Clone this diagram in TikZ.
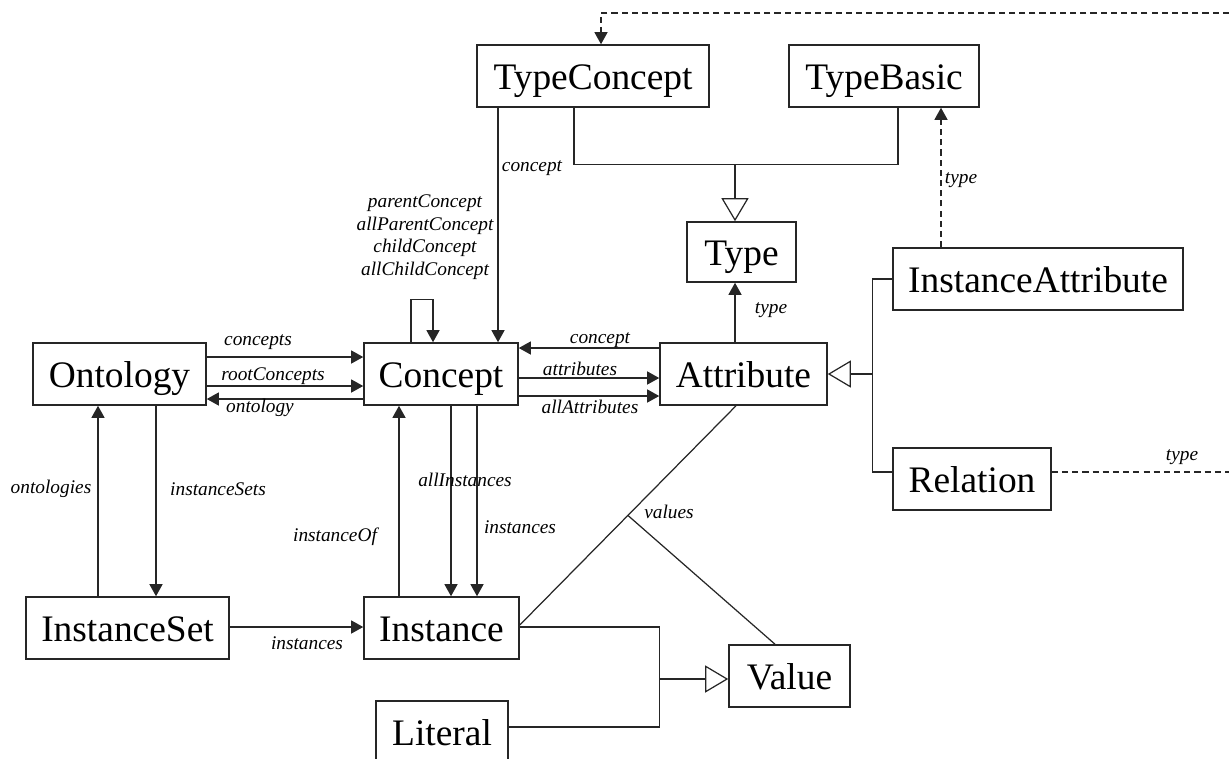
\documentclass[tikz,border=0pt]{standalone}
\usepackage{fontspec}
\setmainfont{Liberation Serif}
\usetikzlibrary{arrows.meta,calc}

\tikzset{
  cls/.style={draw=black!85, line width=0.9pt, fill=white, inner sep=0pt,
    minimum height=1.24cm, text height=0.64cm, text depth=0.12cm,
    font=\fontsize{21.3}{24}\selectfont},
  role/.style={font=\fontsize{11}{12.9}\selectfont\itshape, inner sep=0pt},
  link/.style={draw=black!85, line width=0.7pt},
  assoc/.style={link, -{Triangle[length=0.24cm,width=0.26cm]}},
  gen/.style={link, -{Triangle[open,length=0.46cm,width=0.54cm]}},
  dep/.style={assoc, dash pattern=on 3.5pt off 2.3pt},
}

\begin{document}
\begin{tikzpicture}[x=0.02cm, y=-0.02cm]
            \useasboundingbox (0,0) rectangle (1229,758);

            % 类
            \node[cls, minimum width=4.64cm] (TypeConcept) at (593,76) {TypeConcept};
            \node[cls, minimum width=3.8cm] (TypeBasic) at (884,76) {TypeBasic};
            \node[cls, minimum width=2.18cm, minimum height=1.2cm] (Type) at (741.5,252) {Type};
            \node[cls, minimum width=3.46cm] (Ontology) at (119.5,374) {Ontology};
            \node[cls, minimum width=3.08cm] (Concept) at (441,374) {Concept};
            \node[cls, minimum width=3.34cm] (Attribute) at (743.5,374) {Attribute};
            \node[cls, minimum width=5.8cm] (InstAttr) at (1038,279) {InstanceAttribute};
            \node[cls, minimum width=3.16cm] (Relation) at (972,479) {Relation};
            \node[cls, minimum width=4.06cm] (InstanceSet) at (127.5,628) {InstanceSet};
            \node[cls, minimum width=3.1cm] (Instance) at (441.5,628) {Instance};
            \node[cls, minimum width=2.42cm] (Value) at (789.5,676) {Value};
            \node[cls, minimum width=2.64cm] (Literal) at (442,732) {Literal};

            % 类型
            \coordinate (topEdge) at (1229,13);
            \draw[dep] (topEdge) -| (TypeConcept.north -| 601,0);
            \draw[link] (TypeConcept.south -| 574,0) -- ++(0,57) coordinate (tj) -| (TypeBasic.south -| 898,0);
            \draw[gen] (tj -| 735,0) -- (Type.north -| 735,0);
            \draw[assoc] (TypeConcept.south -| 498,0) -- (Concept.north -| 498,0);
            \node[role] (lTypeConcept) at (532,168) {concept};
            \draw[dep] (InstAttr.north -| 941,0) -- (TypeBasic.south -| 941,0);
            \node[role] (lInstAttr) at (961,180) {type};

            % 概念自身
            \draw[assoc] (Concept.north -| 411,0) -- ++(0,-43) -| (Concept.north -| 433,0);
            \node[role, align=center] (lSelf) at (425,237)
                {parentConcept\\allParentConcept\\childConcept\\allChildConcept};

            % Ontology -- Concept
            \draw[assoc] (Ontology.east |- 0,357) -- (Concept.west |- 0,357);
            \draw[assoc] (Ontology.east |- 0,386) -- (Concept.west |- 0,386);
            \draw[assoc] (Concept.west |- 0,399) -- (Ontology.east |- 0,399);
            \node[role] (lConcepts) at (258,342) {concepts};
            \node[role] (lRoot) at (273,376) {rootConcepts};
            \node[role] (lOntology) at (260,408) {ontology};

            % Concept -- Attribute
            \draw[assoc] (Attribute.west |- 0,348) -- (Concept.east |- 0,348);
            \draw[assoc] (Concept.east |- 0,378) -- (Attribute.west |- 0,378);
            \draw[assoc] (Concept.east |- 0,396) -- (Attribute.west |- 0,396);
            \node[role] (lConcept) at (600,340) {concept};
            \node[role] (lAttributes) at (580,369) {attributes};
            \node[role] (lAllAttr) at (590,407) {allAttributes};
            \draw[assoc] (Attribute.north -| 735,0) -- (Type.south -| 735,0);
            \node[role] (lType) at (771,310) {type};

            % 属性的子类
            \draw[link] (InstAttr.west) -- ++(-20,0) coordinate (ga) |- (Relation.west |- 0,472);
            \draw[gen] (ga |- Attribute.east) -- (Attribute.east);
            \coordinate (relEdge) at (1229,472);
            \draw[link, dash pattern=on 3.5pt off 2.3pt] (Relation.east |- relEdge) -- (relEdge);
            \node[role] (lRelType) at (1182,457) {type};

            % 实例
            \draw[assoc] (InstanceSet.north -| 98,0) -- (Ontology.south -| 98,0);
            \draw[assoc] (Ontology.south -| 156,0) -- (InstanceSet.north -| 156,0);
            \node[role] (lOntologies) at (51,489) {ontologies};
            \node[role] (lInstSets) at (218,489) {instanceSets};
            \draw[assoc] (InstanceSet.east |- 0,627) -- (Instance.west |- 0,627);
            \node[role] (lInstances) at (307,643) {instances};
            \draw[assoc] (Instance.north -| 399,0) -- (Concept.south -| 399,0);
            \draw[assoc] (Concept.south -| 451,0) -- (Instance.north -| 451,0);
            \draw[assoc] (Concept.south -| 477,0) -- (Instance.north -| 477,0);
            \node[role] (lInstOf) at (335,537) {instanceOf};
            \node[role] (lAllInst) at (465,480) {allInstances};
            \node[role] (lInst) at (520,527) {instances};

            % 值
            \draw[link] (Attribute.south -| 736,0) -- coordinate[pos=0.5] (vj) (Instance.east |- 0,625);
            \draw[link] (vj) -- (Value.north -| 775,0);
            \node[role] (lValues) at (669,512) {values};
            \draw[link] (Instance.east |- 0,627) -- ++(140,0) coordinate (gv) |- (Literal.east |- 0,727);
            \draw[gen] (gv |- 0,679) -- (Value.west |- 0,679);

        \end{tikzpicture}
\end{document}
